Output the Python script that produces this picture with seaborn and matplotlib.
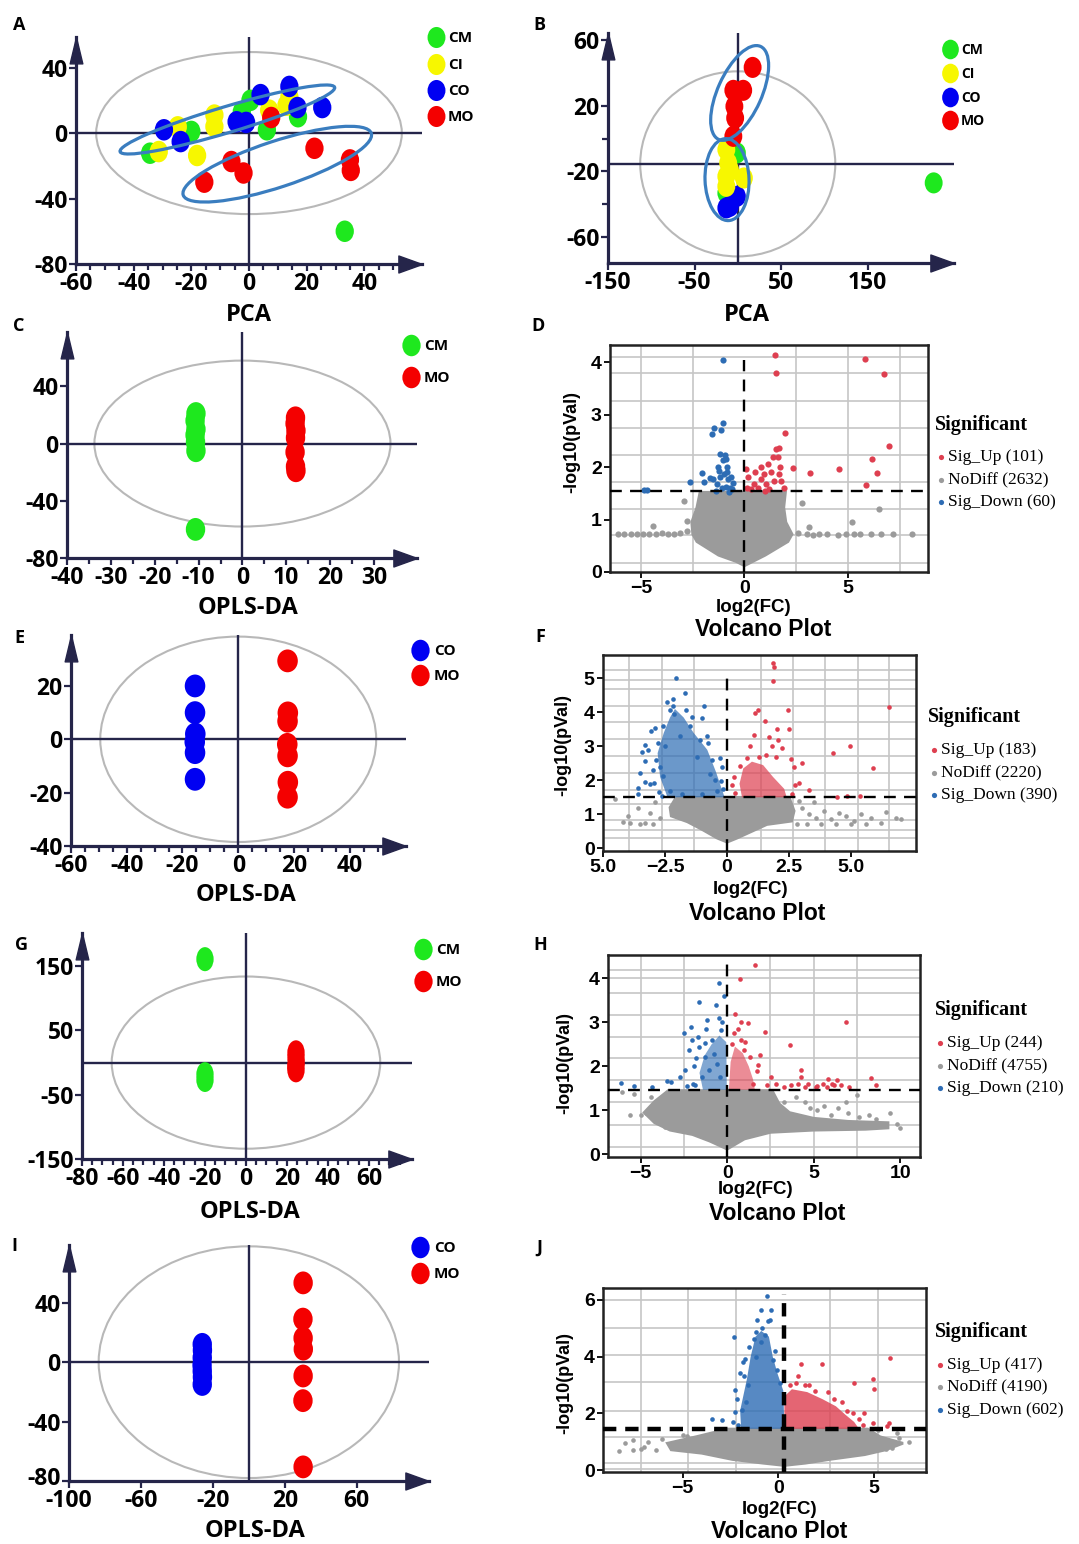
import numpy as np
import pandas as pd
import matplotlib
matplotlib.use("Agg")
import matplotlib.pyplot as plt
import matplotlib.transforms as mtransforms
from matplotlib.patches import Ellipse
from matplotlib.path import Path
from matplotlib import font_manager
import seaborn as sns

# ---------------- score plots (PCA / OPLS-DA) ----------------
# A: PCA, four groups
a_cm_x = [-34.3, -20.0, 0.5, -2.5, 6.2, 17.0, 33.2]
a_cm_y = [-12.3, 1.0, 20.0, 13.0, 2.0, 10.0, -60.0]
a_ci_x = [-31.3, -24.7, -18.0, -12.0, -12.0, 7.0, 13.0, 14.0]
a_ci_y = [-11.3, 3.8, -13.7, 11.0, 4.0, 14.0, 17.0, 22.0]
a_co_x = [-29.5, -23.7, -4.3, -1.0, 4.0, 14.0, 16.8, 25.4]
a_co_y = [2.0, -5.2, 6.9, 6.5, 23.5, 28.5, 15.6, 15.6]
a_mo_x = [-15.5, -6.1, -1.9, 7.7, 22.7, 35.0, 35.3]
a_mo_y = [-30.0, -17.4, -24.4, 9.5, -9.3, -16.4, -22.8]

# B: PCA, four groups
b_cm_x = [-1.0, -13.2, 226.5]
b_cm_y = [-8.7, -33.2, -27.0]
b_co_x = [-9.1, -1.0, -13.2]
b_co_y = [-41.3, -35.2, -42.3]
b_ci_x = [-13.2, -11.1, -13.2, 7.1, -13.2, -9.0]
b_ci_y = [-6.7, -14.8, -23.0, -24.0, -29.1, -19.0]
b_mo_x = [17.2, 6.3, -5.1, -3.9, -3.0, -5.1]
b_mo_y = [43.5, 29.5, 29.5, 19.7, 12.6, 1.4]

# C: OPLS-DA CM vs MO
c_cm_x = [-10.6, -10.8, -10.6, -10.8, -10.7, -10.6, -10.7]
c_cm_y = [21, 16, 10, 6, 1, -5, -60]
c_mo_x = [12.1, 12.0, 12.2, 12.1, 12.0, 12.1, 12.2]
c_mo_y = [18, 14, 9, 4, -6, -16, -19]

# E: OPLS-DA CO vs MO
e_co_x = [-15.5, -15.5, -15.4, -15.6, -15.5, -15.5]
e_co_y = [20, 10, 2, -1, -5, -15]
e_mo_x = [17.7, 17.8, 17.7, 17.6, 17.7, 17.8, 17.7]
e_mo_y = [29.4, 9.9, 6.8, -1.9, -6.2, -16.1, -21.7]

# G: OPLS-DA CM vs MO
g_cm_x = [-20.0, -20.0, -20.0]
g_cm_y = [161, -18, -27]
g_mo_x = [24.4, 24.4, 24.5, 24.3, 24.4]
g_mo_y = [16, 8, 0, -6, -12]

# I: OPLS-DA CO vs MO
i_co_x = [-25.9, -25.8, -25.9, -26.0, -25.9, -25.8, -25.9]
i_co_y = [12, 8, 3, -2, -6, -10, -15]
i_mo_x = [30.2, 30.1, 30.2, 30.3, 30.2, 30.1, 30.2]
i_mo_y = [53.4, 29.0, 16.2, 8.8, -9.3, -25.9, -70.5]

# ---------------- volcano plots ----------------
# D
d_gray_poly_x = [-2.15, -2.3, -2.55, -2.5, -2.3, -1.25, -0.4, 0.0, 0.4, 1.0, 2.1, 2.3, 2.0, 1.9, 1.98]
d_gray_poly_y = [1.52, 1.23, 0.95, 0.72, 0.58, 0.32, 0.2, 0.12, 0.2, 0.32, 0.58, 0.72, 0.95, 1.23, 1.52]
d_gray_x = [-6.1, -5.8, -5.5, -5.2, -4.9, -4.6, -4.3, -4.0, -3.7, -3.4, -3.1, -2.8, -4.4, -2.9, -2.8, -1.9,
            2.6, 3.0, 3.3, 3.6, 4.0, 4.5, 4.9, 5.3, 5.6, 6.1, 6.6, 7.2, 8.1, 2.8, 5.2, 6.5, 3.1]
d_gray_y = [0.72, 0.72, 0.73, 0.72, 0.72, 0.73, 0.72, 0.74, 0.72, 0.73, 0.75, 0.78, 0.88, 1.35, 0.98, 1.42,
            0.74, 0.72, 0.7, 0.72, 0.72, 0.71, 0.72, 0.72, 0.72, 0.72, 0.72, 0.72, 0.72, 1.32, 0.95, 1.2, 0.85]
d_down_x = [-1.02, -1.59, -1.45, -1.05, -1.12, -1.18, -0.94, -1.05, -1.3, -0.85, -1.0, -1.2, -0.8, -1.35, -1.1, -0.7,
            -0.65, -1.5, -1.66, -2.06, -1.95, -2.61, -4.85, -4.7, -1.4, -0.9, -0.85, -0.6, -0.75, -1.25, -0.55, -0.9]
d_down_y = [4.05, 2.63, 2.74, 2.84, 2.71, 2.25, 2.23, 2.13, 2.0, 2.0, 1.87, 1.81, 1.77, 1.68, 1.61, 1.61,
            1.81, 1.77, 1.79, 1.88, 1.71, 1.71, 1.57, 1.57, 1.55, 1.63, 1.9, 1.58, 1.52, 1.92, 1.7, 2.15]
d_up_x = [1.49, 1.54, 5.83, 6.72, 1.98, 7.0, 6.18, 6.4, 5.87, 4.59, 3.18, 2.33, 0.07, 0.18, 0.47, 0.8, 0.96, 1.12,
          1.36, 1.52, 1.68, 1.6, 1.28, 1.44, 0.63, 0.31, 1.04, 1.68, 1.73, 1.76, 1.2, 0.8, 0.1, 0.5, 1.9, 1.0]
d_up_y = [4.14, 3.79, 4.06, 3.77, 2.65, 2.4, 2.15, 1.89, 1.66, 1.97, 1.88, 1.98, 1.97, 1.81, 1.68, 2.0, 1.87, 2.06,
          2.19, 2.35, 2.37, 2.19, 1.9, 1.74, 1.61, 1.58, 1.68, 1.87, 2.0, 1.74, 1.58, 1.77, 1.61, 1.9, 1.6, 1.55]

# F
f_gray_poly_x = [-2.05, -2.3, -2.25, -1.6, -1.0, -0.4, 0.0, 0.4, 1.0, 1.6, 2.6, 2.7, 2.5]
f_gray_poly_y = [1.5, 1.2, 0.95, 0.78, 0.55, 0.3, 0.18, 0.3, 0.5, 0.7, 0.8, 1.1, 1.5]
f_gray_x = [-4.2, -3.9, -3.5, -3.3, -3.0, -2.7, -3.1, -3.6, -2.9, -4.5, -4.0, 3.0, 3.3, 3.6, 3.9, 4.2, 4.5,
            4.8, 5.1, 5.4, 5.8, 6.2, 6.8, 7.0, 3.2, 3.8, 4.4, 5.0, 5.6, 2.9, 3.5, 6.4, 2.8]
f_gray_y = [0.78, 0.74, 0.72, 0.74, 0.72, 0.9, 1.05, 1.2, 1.35, 1.45, 0.95, 1.2, 1.0, 0.9, 1.1, 0.85, 1.05,
            0.95, 0.8, 1.0, 0.9, 0.75, 0.9, 0.85, 0.72, 0.72, 0.72, 0.72, 0.72, 1.4, 1.35, 1.08, 0.72]
f_down_poly_x = [-2.4, -2.7, -2.8, -2.55, -2.3, -2.1, -1.75, -1.35, -0.8, -0.45, -0.1]
f_down_poly_y = [1.5, 2.1, 2.8, 3.4, 3.85, 4.1, 3.85, 3.4, 2.9, 2.25, 1.5]
f_down_x = [-2.04, -1.68, -2.43, -2.2, -2.3, -2.13, -1.64, -1.42, -0.92, -1.03, -2.92, -3.05, -3.3, -3.42,
            -3.3, -3.5, -3.6, -3.58, -3.3, -2.95, -2.63, -2.57, -0.82, -0.76, -0.29, -0.2, -0.26,
            -2.7, -2.5, -1.9, -1.2, -0.5, -0.4, -1.0, -1.8, -2.3, -3.0, -2.8, -1.5,
            -2.85, -3.1, -2.6, -2.2, -1.1, -0.6, -0.15, -0.7, -3.2, -2.75]
f_down_y = [5.02, 4.57, 4.32, 4.39, 4.06, 3.96, 4.08, 3.86, 4.19, 3.84, 3.53, 3.44, 3.04, 2.82,
            2.57, 2.21, 1.78, 1.61, 1.95, 1.93, 1.55, 2.13, 3.3, 3.1, 2.67, 2.38, 1.98,
            2.4, 3.0, 3.3, 2.7, 2.0, 1.7, 1.6, 1.6, 1.7, 2.3, 3.1, 3.6,
            2.6, 1.9, 3.6, 4.2, 3.2, 2.6, 1.75, 2.2, 2.9, 1.65]
f_up_poly_x = [0.6, 0.5, 0.65, 1.0, 1.45, 1.85, 2.3, 2.4]
f_up_poly_y = [1.5, 1.9, 2.35, 2.55, 2.45, 2.1, 1.75, 1.5]
f_up_x = [1.84, 1.9, 1.84, 2.47, 1.25, 1.12, 1.51, 2.01, 2.5, 1.08, 1.68, 2.04, 0.92, 1.8, 2.21, 1.58, 1.97,
          2.58, 3.0, 2.7, 4.28, 4.97, 5.86, 6.51, 4.41, 4.84, 5.37, 3.29, 2.89, 0.26, 0.2, 0.33, 0.5,
          2.6, 2.75, 0.8, 1.3]
f_up_y = [5.45, 5.35, 4.93, 4.06, 4.06, 3.99, 3.76, 3.5, 3.51, 3.34, 3.27, 3.2, 3.02, 3.02, 2.94, 2.74, 2.69,
          2.62, 2.5, 2.38, 2.8, 3.0, 2.36, 4.16, 1.52, 1.53, 1.53, 1.73, 1.93, 2.11, 1.85, 1.63, 2.43,
          1.6, 1.85, 2.65, 2.7]

# H
h_gray_poly_x = [-3.4, -4.2, -4.8, -4.2, -3.3, -2.0, -1.0, 0.0, 1.0, 2.5, 5.0, 8.0, 9.3, 9.3, 7.0, 5.0, 3.6, 3.0, 2.6]
h_gray_poly_y = [1.45, 1.2, 0.95, 0.72, 0.55, 0.45, 0.3, 0.12, 0.35, 0.5, 0.55, 0.57, 0.6, 0.72, 0.75, 0.82, 0.95, 1.15, 1.45]
h_gray_x = [-5.0, -4.7, -4.4, -5.4, -6.1, -3.6, -3.0, 3.3, 4.0, 4.5, 5.2, 5.6, 6.0, 6.4, 7.0, 7.5, 7.6, 8.2,
            8.6, 9.4, 10.0, 3.0, 4.8, 6.9, -5.6, 9.8]
h_gray_y = [0.9, 0.95, 1.3, 1.38, 1.42, 0.62, 0.6, 1.2, 1.3, 1.2, 1.0, 1.1, 0.9, 1.05, 0.95, 1.35, 0.85, 0.9,
            0.8, 0.95, 0.6, 0.85, 1.05, 1.2, 0.9, 0.7]
h_down_poly_x = [-1.4, -1.6, -1.3, -0.9, -0.45, -0.05, -0.02]
h_down_poly_y = [1.47, 1.85, 2.25, 2.5, 2.7, 2.55, 1.47]
h_down_x = [-0.49, -1.61, -0.66, -2.1, -1.18, -0.45, -2.52, -1.69, -1.28, -0.87, -2.2, -1.79, -1.28, -0.76,
            -2.41, -2.72, -2.0, -1.48, -1.07, -0.56, -3.24, -3.48, -4.33, -5.4, -6.12, -0.41, -0.35,
            -1.9, -2.3, -1.6, -1.2, -0.3, -0.2, -1.85, -2.05]
h_down_y = [3.9, 3.47, 3.39, 2.9, 3.05, 3.09, 2.75, 2.67, 2.52, 2.6, 2.37, 2.18, 2.22, 2.29,
            1.91, 1.76, 1.61, 1.76, 1.91, 2.06, 1.65, 1.66, 1.52, 1.56, 1.62, 1.76, 2.82,
            2.0, 1.55, 2.45, 2.85, 3.0, 3.6, 1.58, 2.6]
h_up_poly_x = [0.1, 0.2, 0.45, 0.9, 1.25, 1.5, 1.6]
h_up_poly_y = [1.47, 2.1, 2.45, 2.3, 2.0, 1.7, 1.47]
h_up_x = [1.61, 0.74, 0.47, 0.78, 1.2, 2.19, 3.63, 6.9, 0.37, 0.78, 0.99, 1.3, 1.81, 1.92, 4.29, 4.29, 5.84,
          6.35, 8.31, 8.62, 2.54, 2.33, 2.85, 3.67, 4.08, 4.7, 5.11, 5.53, 6.04, 6.56, 7.07, 3.26, 1.5, 4.5,
          5.2, 5.8, 6.2, 0.6, 1.05, 0.3, 1.7]
h_up_y = [4.3, 3.98, 3.2, 3.01, 2.98, 2.79, 2.48, 3.01, 2.75, 2.6, 2.37, 2.22, 2.03, 2.25, 1.91, 1.76, 1.72,
          1.7, 1.74, 1.57, 1.75, 1.57, 1.61, 1.57, 1.6, 1.6, 1.53, 1.6, 1.61, 1.57, 1.53, 1.53, 1.61, 1.52,
          1.56, 1.54, 1.58, 2.85, 2.55, 2.5, 1.9]

# J
j_gray_poly_x = [-2.65, -4.3, -5.8, -5.6, -4.0, -2.4, -0.8, 0.3, 1.4, 2.65, 4.5, 5.6, 6.5, 5.3, 4.66]
j_gray_poly_y = [1.45, 1.18, 0.95, 0.72, 0.6, 0.38, 0.25, 0.17, 0.25, 0.38, 0.55, 0.72, 0.95, 1.18, 1.45]
j_gray_x = [-8.3, -7.6, -7.6, -6.8, -6.4, -7.0, -6.1, -5.0, -4.8, 5.6, 6.0, 5.9, 6.8, 6.2, 5.2, 6.3, -8.0, -7.2]
j_gray_y = [0.68, 0.7, 1.05, 1.0, 0.72, 0.82, 1.1, 1.25, 1.22, 0.75, 0.95, 0.78, 1.0, 1.3, 1.42, 1.15, 0.95, 0.75]
j_down_poly_x = [-1.95, -2.0, -1.65, -1.45, -1.2, -0.9, -0.5, -0.3, -0.05, 0.25, 0.31]
j_down_poly_y = [1.46, 2.1, 3.2, 4.0, 4.7, 4.9, 4.7, 4.0, 3.4, 2.8, 1.46]
j_down_x = [-0.6, -0.91, -0.37, -1.1, -0.55, -2.32, -1.19, -0.68, -1.55, -1.19, -1.83, -0.27, -2.29,
            -2.01, -1.92, -2.29, -2.93, -3.47, -2.38, -0.09, 0.09, -1.6, -1.3, -0.9, -1.7, -0.2,
            -2.1, -1.8, -2.15, -1.75, -0.85, -0.45]
j_down_y = [6.14, 5.65, 5.62, 5.29, 5.24, 4.68, 4.88, 4.76, 4.35, 4.0, 3.82, 3.88, 2.82,
            3.41, 2.12, 2.06, 1.76, 1.79, 1.71, 3.53, 3.06, 3.0, 4.6, 4.5, 2.4, 4.2,
            1.6, 3.3, 2.5, 3.9, 5.0, 5.3]
j_up_poly_x = [0.31, 0.31, 0.7, 1.5, 2.3, 3.0, 3.5, 3.95, 4.2]
j_up_poly_y = [1.46, 2.6, 2.85, 2.75, 2.5, 2.25, 1.95, 1.7, 1.46]
j_up_x = [1.19, 2.29, 1.01, 3.93, 4.94, 4.99, 5.8, 0.91, 1.37, 4.48, 4.94, 5.76, 5.67, 3.6, 4.2, 2.9, 1.9,
          3.3, 3.9, 2.6, 0.6, 1.6, 4.4]
j_up_y = [3.73, 3.73, 3.32, 3.08, 3.2, 2.85, 3.94, 3.06, 3.0, 2.02, 1.65, 1.65, 1.55, 2.1, 1.8, 2.5, 2.8,
          2.4, 2.0, 2.75, 3.0, 3.0, 1.6]

d_counts = ["Sig_Up (101)", "NoDiff (2632)", "Sig_Down (60)"]
f_counts = ["Sig_Up (183)", "NoDiff (2220)", "Sig_Down (390)"]
h_counts = ["Sig_Up (244)", "NoDiff (4755)", "Sig_Down (210)"]
j_counts = ["Sig_Up (417)", "NoDiff (4190)", "Sig_Down (602)"]

# ---------------- style ----------------
sns.set_style("white")
plt.rcParams.update({"text.color": "black", "xtick.color": "black",
                     "ytick.color": "black", "axes.labelcolor": "black"})
have = {f.name for f in font_manager.fontManager.ttflist}
NARROW = "Liberation Sans Narrow" if "Liberation Sans Narrow" in have else "Open Sans"
SANS, SERIF, OPEN = "Liberation Sans", "Liberation Serif", "Open Sans"
plt.rcParams["font.family"] = [SANS, "DejaVu Sans"]

NAVY = "#25254a"
RING = "#3a7dbf"
GROUP_COLORS = {"CM": "#1ee81e", "CI": "#f7f700", "CO": "#0000f2", "MO": "#f40000"}
GRAY, UP, DOWN = "#9b9b9b", "#de3f50", "#2d6cb4"

W, H = 1079, 1544
fig = plt.figure(figsize=(W / 100, H / 100), dpi=100)
fig.patch.set_facecolor("white")

circ = Path.unit_circle()


def oval(r):
    return Path(circ.vertices * np.array([r, 1.0]), circ.codes)


ARROW_R = Path([(0, 0), (-1, 0.36), (-1, -0.36), (0, 0)],
               [Path.MOVETO, Path.LINETO, Path.LINETO, Path.CLOSEPOLY])
ARROW_U = Path([(0, 0), (-0.24, -1), (0.24, -1), (0, 0)],
               [Path.MOVETO, Path.LINETO, Path.LINETO, Path.CLOSEPOLY])


def add_box(l, t, r, b):
    return fig.add_axes([l / W, 1 - b / H, (r - l) / W, (b - t) / H])


def score_panel(box, xlim, ylim, groups, ring, xt, yt, xminor=(), yminor=(),
                hline=0, s=250, shape=0.85, rings=(), nudge_bottom=0):
    ax = add_box(*box)
    df = pd.concat([pd.DataFrame({"t1": xs, "t2": ys, "group": name})
                    for name, xs, ys in groups], ignore_index=True)
    ax.add_patch(Ellipse(ring[:2], ring[2], ring[3], fill=False, ec="#b8b8b8", lw=1.5, zorder=1))
    ax.axhline(hline, color=NAVY, lw=1.7, zorder=2)
    ax.axvline(0, color=NAVY, lw=1.7, zorder=2)
    sns.scatterplot(data=df, x="t1", y="t2", hue="group", palette=GROUP_COLORS,
                    marker=oval(shape), s=s, linewidth=0, legend=False, ax=ax, zorder=3)
    ax.set_xlim(*xlim)
    ax.set_ylim(*ylim)
    for cx, cy, a, b, ang in rings:
        tr = fig.dpi_scale_trans + mtransforms.ScaledTranslation(cx, cy, ax.transData)
        ax.add_patch(Ellipse((0, 0), 2 * a / 100, 2 * b / 100, angle=ang, transform=tr,
                             fill=False, ec=RING, lw=2.3, zorder=4))
    sns.despine(ax=ax)
    for side in ("left", "bottom"):
        ax.spines[side].set_color(NAVY)
        ax.spines[side].set_linewidth(2.3)
    ax.plot([1], [0], marker=ARROW_R, ms=34, color=NAVY, transform=ax.transAxes,
            clip_on=False, zorder=6)
    ax.plot([0], [1], marker=ARROW_U, ms=38, color=NAVY, transform=ax.transAxes,
            clip_on=False, zorder=6)
    ax.set_xticks(xt)
    ax.set_xticklabels([str(v) for v in xt])
    ax.set_yticks(yt)
    ax.set_yticklabels([str(v) for v in yt])
    ax.set_xticks(list(xminor), minor=True)
    ax.set_yticks(list(yminor), minor=True)
    ax.tick_params(which="both", direction="out", color=NAVY, width=1.6,
                   bottom=True, left=True, pad=1)
    ax.tick_params(which="major", length=5)
    ax.tick_params(which="minor", length=4)
    for lab in ax.get_xticklabels() + ax.get_yticklabels():
        lab.set_fontfamily(NARROW)
        lab.set_fontweight("bold")
        lab.set_fontsize(16.5)
    if nudge_bottom:
        # lowest y label sits just above the first x label, as in the source figure
        lab = ax.get_yticklabels()[0]
        lab.set_transform(lab.get_transform() +
                          mtransforms.ScaledTranslation(0, nudge_bottom / 100, fig.dpi_scale_trans))
    ax.set_xlabel("")
    ax.set_ylabel("")
    ax.set_facecolor("none")
    return ax


def volcano(box, xlim, ylim, gray, down, up, xt, xtl, yt, vgrid, hgrid, cut_y,
            cut_x=0.0, vtop=1.0, s=12, dash_lw=1.7, dashes=(5, 3.5), core_alpha=0.75):
    ax = add_box(*box)
    for v in vgrid:
        ax.axvline(v, color="#c6c6c6", lw=1.2, zorder=0)
    for h in hgrid:
        ax.axhline(h, color="#c6c6c6", lw=1.2, zorder=0)
    (gpx, gpy, gx, gy), (dpx, dpy, dx, dy), (upx, upy, ux, uy) = gray, down, up
    ax.fill(gpx, gpy, fc=GRAY, ec=GRAY, lw=2, zorder=1)
    sns.scatterplot(x=gx, y=gy, color=GRAY, s=s, linewidth=0, ax=ax, zorder=2)
    if dpx:
        ax.fill(dpx, dpy, fc=DOWN, ec="none", alpha=core_alpha, zorder=2)
    if upx:
        ax.fill(upx, upy, fc=UP, ec="none", alpha=core_alpha, zorder=2)
    sns.scatterplot(x=dx, y=dy, color=DOWN, s=s, linewidth=0, ax=ax, zorder=3)
    sns.scatterplot(x=ux, y=uy, color=UP, s=s, linewidth=0, ax=ax, zorder=3)
    ax.axhline(cut_y, color="black", lw=dash_lw, ls=(0, dashes), zorder=4)
    ax.axvline(cut_x, ymax=vtop, color="black", lw=dash_lw, ls=(0, dashes), zorder=4)
    ax.set_xlim(*xlim)
    ax.set_ylim(*ylim)
    ax.set_xticks(xt)
    ax.set_xticklabels(xtl)
    ax.set_yticks(yt)
    ax.set_yticklabels([str(v) for v in yt])
    for sp in ax.spines.values():
        sp.set_color("#222222")
        sp.set_linewidth(1.8)
    ax.tick_params(direction="out", length=4, width=1.3, bottom=True, left=True, pad=2)
    for lab in ax.get_xticklabels() + ax.get_yticklabels():
        lab.set_fontfamily(SANS)
        lab.set_fontweight("bold")
        lab.set_fontsize(14)
    ax.grid(False)
    return ax


# ---------------- panels ----------------
score_panel((76, 37, 422, 264), (-60, 60), (-80, 58.7),
            [("CM", a_cm_x, a_cm_y), ("CI", a_ci_x, a_ci_y), ("CO", a_co_x, a_co_y), ("MO", a_mo_x, a_mo_y)],
            (0, 0, 106, 99), [-60, -40, -20, 0, 20, 40], [-80, -40, 0, 40],
            xminor=range(-55, 55, 5), s=240,
            rings=[(-7.5, 8.3, 112, 13, 16.7), (9.8, -19.0, 99, 23, 18.2)])

score_panel((608, 33, 954, 263), (-150, 250), (-75.9, 64.5),
            [("CM", b_cm_x, b_cm_y), ("CO", b_co_x, b_co_y), ("CI", b_ci_x, b_ci_y), ("MO", b_mo_x, b_mo_y)],
            (0, -15.4, 225.5, 113), [-150, -50, 50, 150], [60, 20, -20, -60],
            yminor=[0, -40], hline=-15.5, s=230,
            rings=[(2.2, 27.9, 51, 22, 65.8), (-12.4, -25.0, 41, 22, 92)])

score_panel((67, 332, 417, 558), (-40, 39.8), (-80, 78),
            [("CM", c_cm_x, c_cm_y), ("MO", c_mo_x, c_mo_y)],
            (0, 0, 67.5, 116), list(range(-40, 31, 10)), [-80, -40, 0, 40],
            xminor=range(-35, 36, 10), s=270)

score_panel((71, 635, 406, 846), (-60, 60.2), (-40, 39.1),
            [("CO", e_co_x, e_co_y), ("MO", e_mo_x, e_mo_y)],
            (0, 0, 99, 77), [-60, -40, -20, 0, 20, 40], [-40, -20, 0, 20],
            xminor=range(-55, 55, 5), s=270, shape=0.9)

score_panel((82, 933, 412, 1159), (-80, 81), (-150, 201.7),
            [("CM", g_cm_x, g_cm_y), ("MO", g_mo_x, g_mo_y)],
            (0, 0, 131, 268), list(range(-80, 61, 20)), [-150, -50, 50, 150],
            xminor=range(-75, 80, 5), s=300, shape=0.72)

score_panel((69, 1245, 429, 1481), (-100, 100.2), (-80, 78.9),
            [("CO", i_co_x, i_co_y), ("MO", i_mo_x, i_mo_y)],
            (0, 0, 167, 156), [-100, -60, -20, 20, 60], [-80, -40, 0, 40], s=270,
            nudge_bottom=5)

MINUS = "\u2212"
volcano((610, 345, 928, 572), (-6.5, 8.87), (0, 4.33),
        (d_gray_poly_x, d_gray_poly_y, d_gray_x, d_gray_y),
        ([], [], d_down_x, d_down_y), ([], [], d_up_x, d_up_y),
        [-5, 0, 5], [MINUS + "5", "0", "5"], [0, 1, 2, 3, 4],
        [-5, -2.5, 2.5, 5, 7.5], [0.18, 0.7, 1.21, 1.72, 2.23, 2.74, 3.26, 3.79, 4.1],
        cut_y=1.55, vtop=0.935, s=20)

volcano((603, 655, 916, 851), (-5.0, 7.61), (-0.08, 5.69),
        (f_gray_poly_x, f_gray_poly_y, f_gray_x, f_gray_y),
        (f_down_poly_x, f_down_poly_y, f_down_x, f_down_y),
        (f_up_poly_x, f_up_poly_y, f_up_x, f_up_y),
        [-5, -2.5, 0, 2.5, 5], ["5.0", MINUS + "2.5", "0", "2.5", "5.0"], [0, 1, 2, 3, 4, 5],
        [-3.96, -2.64, -1.32, 1.35, 2.64, 3.96, 5.28, 6.53],
        [0.3, 0.55, 0.84, 1.29, 1.73, 2.23, 2.72, 3.22, 3.71, 4.2, 4.7, 4.95, 5.25],
        cut_y=1.5, vtop=0.92, s=11, core_alpha=0.7)

volcano((608, 955, 920, 1157), (-6.89, 11.15), (-0.06, 4.53),
        (h_gray_poly_x, h_gray_poly_y, h_gray_x, h_gray_y),
        (h_down_poly_x, h_down_poly_y, h_down_x, h_down_y),
        (h_up_poly_x, h_up_poly_y, h_up_x, h_up_y),
        [-5, 0, 5, 10], [MINUS + "5", "0", "5", "10"], [0, 1, 2, 3, 4],
        [-5, -2.5, 2.5, 5, 7.5], [0.17, 0.66, 1.18, 1.68, 2.18, 2.67, 3.17, 3.66, 4.0, 4.19],
        cut_y=1.47, vtop=0.99, s=11, core_alpha=0.6)

volcano((603, 1288, 926, 1472), (-9.16, 7.7), (-0.06, 6.41),
        (j_gray_poly_x, j_gray_poly_y, j_gray_x, j_gray_y),
        (j_down_poly_x, j_down_poly_y, j_down_x, j_down_y),
        (j_up_poly_x, j_up_poly_y, j_up_x, j_up_y),
        [-5, 0, 5], [MINUS + "5", "0", "5"], [0, 2, 4, 6],
        [-7.2, -4.7, -2.2, 2.7, 5.2], [0.06, 0.24, 1.18, 2.1, 3.1, 4.06, 5.0, 6.0],
        cut_y=1.46, cut_x=0.3, vtop=0.97, s=11, dash_lw=3.2, dashes=(3, 2), core_alpha=0.8)

# ---------------- overlay: labels & legends ----------------
ov = fig.add_axes([0, 0, 1, 1], zorder=20)
ov.set_xlim(0, W)
ov.set_ylim(H, 0)
ov.axis("off")

for letter, x, y in [("A", 19, 25), ("B", 539, 25), ("C", 19, 326), ("D", 538, 326),
                     ("E", 19, 638), ("F", 540, 637), ("G", 21, 945), ("H", 540, 945),
                     ("I", 14, 1246), ("J", 539, 1248)]:
    ov.text(x, y, letter, family=OPEN, weight="bold", size=13, ha="center", va="center")

for txt, x, y in [("PCA", 249, 315), ("PCA", 747, 315), ("OPLS-DA", 248, 608),
                  ("OPLS-DA", 246, 895), ("OPLS-DA", 250, 1212), ("OPLS-DA", 255, 1531)]:
    ov.text(x, y, txt, family=OPEN, weight="bold", size=17, ha="center", va="center")

score_legends = [
    (436, 37.3, 26.3, 448, ["CM", "CI", "CO", "MO"], 11, 230),
    (950, 49.3, 23.6, 961, ["CM", "CI", "CO", "MO"], 10, 200),
    (411, 345, 32.3, 424, ["CM", "MO"], 11, 240),
    (420, 650, 25.0, 434, ["CO", "MO"], 11, 240),
    (423, 949, 31.7, 436, ["CM", "MO"], 11, 240),
    (420, 1247, 26.0, 434, ["CO", "MO"], 11, 240),
]
for mx, my, step, tx, names, fs, ms in score_legends:
    for k, name in enumerate(names):
        yy = my + k * step
        ov.scatter([mx], [yy], marker=oval(0.85), s=ms, color=GROUP_COLORS[name], linewidths=0)
        ov.text(tx, yy + 1, name, family=NARROW, weight="bold", size=fs, ha="left", va="center")

volcano_texts = [
    # ylabel (x, y), log2 (x, y), title (x, y), legend title (x, y), marker x, entry ys, text x, labels
    ((572, 442), (754, 607), (763, 630), (935, 425), 941, [457, 480, 502], 948, d_counts),
    ((563, 745), (751, 889), (757, 913), (928, 717), 934, [750, 773, 795], 941, f_counts),
    ((565, 1063), (756, 1190), (777, 1214), (935, 1010), 940, [1043, 1066, 1088], 947, h_counts),
    ((565, 1383), (780, 1510), (779, 1531), (935, 1332), 940, [1365, 1387, 1410], 947, j_counts),
]
for (yl, lx, vt, st, mx, ys, tx, labels) in volcano_texts:
    ov.text(*yl, "-log10(pVal)", family=SANS, weight="bold", size=13, rotation=90,
            ha="center", va="center")
    ov.text(*lx, "log2(FC)", family=SANS, weight="bold", size=13.5, ha="center", va="center")
    ov.text(*vt, "Volcano Plot", family=SANS, weight="bold", size=16.5, ha="center", va="center")
    ov.text(*st, "Significant", family=SERIF, weight="bold", size=14.5, ha="left", va="center")
    for yy, lab, col in zip(ys, labels, [UP, GRAY, DOWN]):
        ov.scatter([mx], [yy], s=14, color=col, linewidths=0)
        ov.text(tx, yy, lab, family=SERIF, size=12.5, ha="left", va="center")

fig.savefig("out.png", dpi=100)
